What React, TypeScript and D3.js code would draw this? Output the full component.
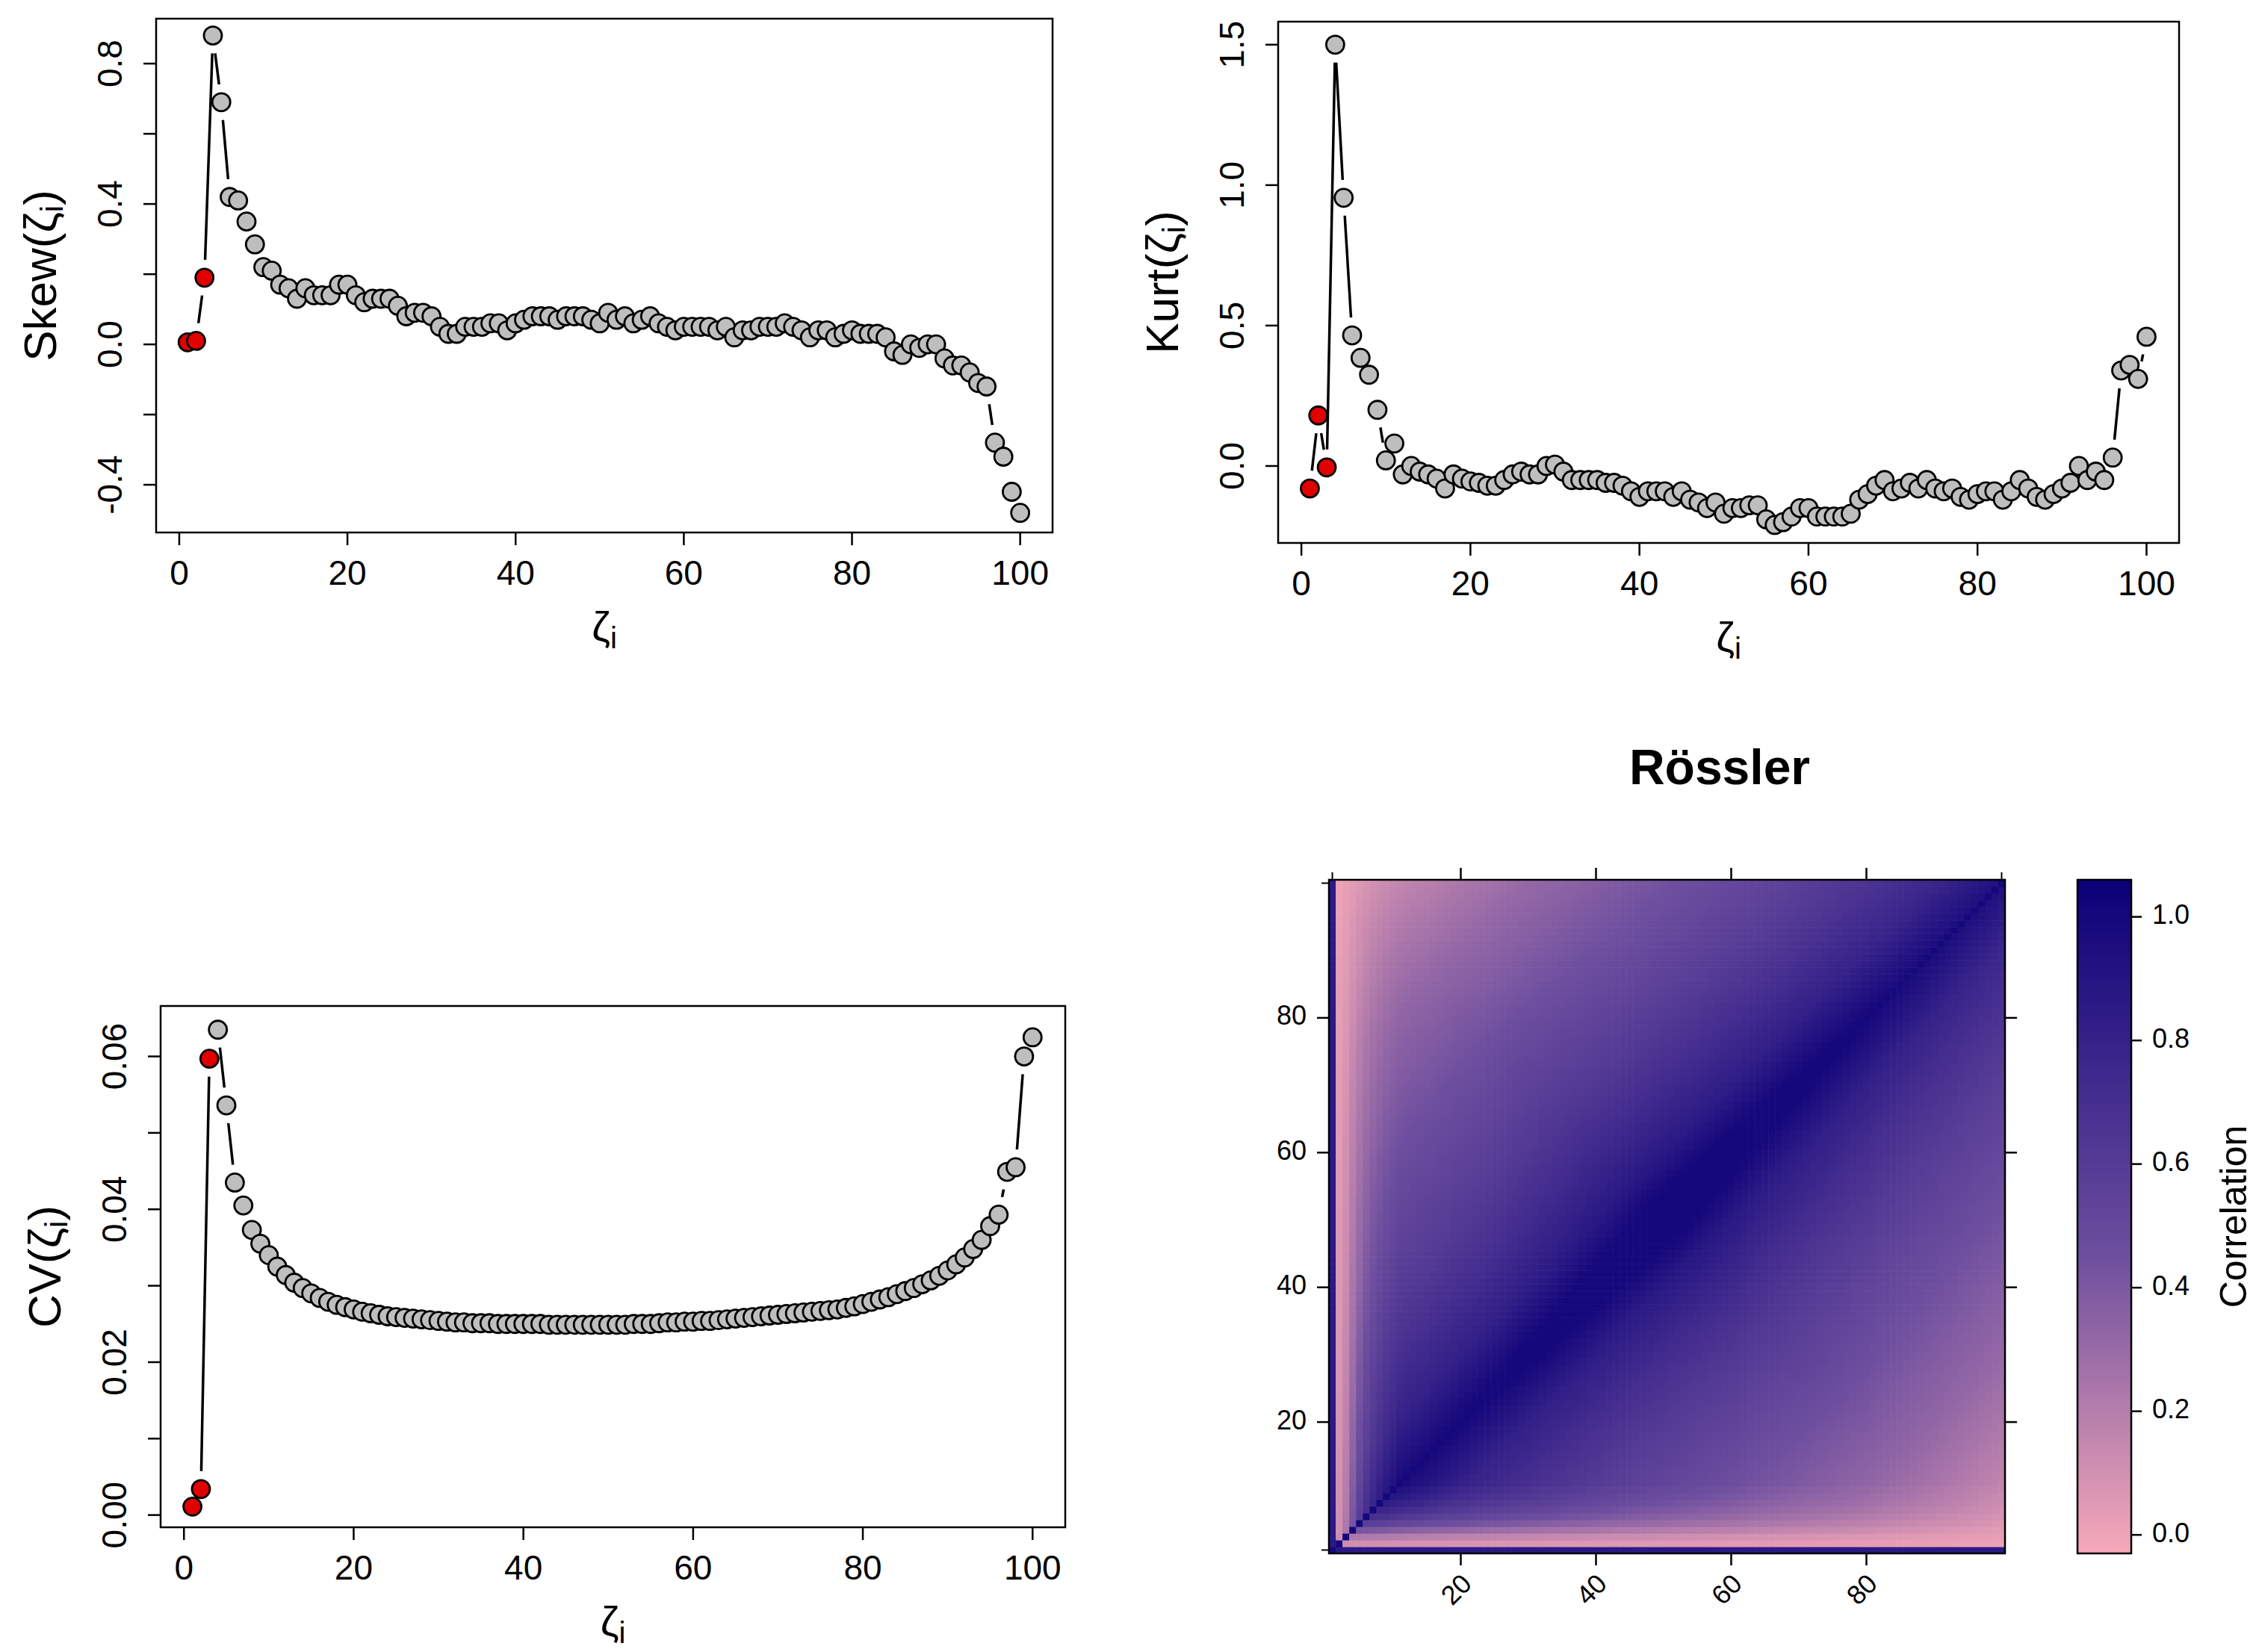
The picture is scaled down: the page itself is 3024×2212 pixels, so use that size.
import React from "react";
import * as d3 from "d3";

const idx = d3.range(1, 101);
const skew = [0.006,0.01,0.19,0.88,0.69,0.42,0.41,0.35,0.285,0.22,
0.21,0.17,0.16,0.13,0.16,0.14,0.14,0.14,0.17,0.17,
0.14,0.12,0.13,0.13,0.13,0.11,0.08,0.09,0.09,0.08,
0.05,0.03,0.03,0.05,0.05,0.05,0.06,0.06,0.04,0.06,
0.07,0.08,0.08,0.08,0.07,0.08,0.08,0.08,0.07,0.06,
0.09,0.07,0.08,0.06,0.07,0.08,0.06,0.05,0.04,0.05,
0.05,0.05,0.05,0.04,0.05,0.02,0.04,0.04,0.05,0.05,
0.05,0.06,0.05,0.04,0.02,0.04,0.04,0.02,0.03,0.04,
0.03,0.03,0.03,0.02,-0.02,-0.03,0.0,-0.01,0.0,0.0,
-0.04,-0.06,-0.06,-0.08,-0.11,-0.12,-0.28,-0.32,-0.42,-0.48];
const kurt = [-0.08,0.18,-0.005,1.5,0.955,0.465,0.385,0.325,0.2,0.02,
0.08,-0.03,0.0,-0.02,-0.03,-0.045,-0.08,-0.03,-0.045,-0.055,
-0.06,-0.07,-0.07,-0.05,-0.03,-0.02,-0.03,-0.03,0.0,0.005,
-0.02,-0.05,-0.05,-0.05,-0.05,-0.06,-0.06,-0.07,-0.09,-0.11,
-0.09,-0.09,-0.09,-0.11,-0.09,-0.12,-0.13,-0.15,-0.13,-0.17,
-0.15,-0.15,-0.14,-0.14,-0.19,-0.21,-0.2,-0.18,-0.15,-0.15,
-0.18,-0.18,-0.18,-0.18,-0.17,-0.12,-0.1,-0.07,-0.05,-0.09,
-0.08,-0.06,-0.08,-0.05,-0.08,-0.09,-0.08,-0.11,-0.12,-0.1,
-0.09,-0.09,-0.12,-0.09,-0.05,-0.08,-0.11,-0.12,-0.1,-0.08,
-0.06,0.0,-0.05,-0.02,-0.05,0.03,0.34,0.36,0.31,0.46];
const cv = [0.0011,0.0034,0.0597,0.0635,0.0536,0.0435,0.0405,0.0373,0.0355,0.034,
0.0325,0.0314,0.0304,0.0297,0.029,0.0284,0.0279,0.0275,0.0272,0.0269,
0.0266,0.0264,0.0262,0.026,0.0259,0.0258,0.0257,0.0256,0.0255,0.0254,
0.0253,0.0252,0.0252,0.0251,0.0251,0.0251,0.025,0.025,0.025,0.025,
0.025,0.025,0.0249,0.0249,0.0249,0.0249,0.0249,0.0249,0.0249,0.0249,
0.0249,0.0249,0.025,0.025,0.025,0.0251,0.0252,0.0252,0.0253,0.0253,
0.0254,0.0254,0.0255,0.0256,0.0257,0.0258,0.0259,0.026,0.0261,0.0262,
0.0263,0.0264,0.0265,0.0266,0.0267,0.0268,0.0269,0.0271,0.0273,0.0276,
0.0279,0.0282,0.0285,0.0289,0.0293,0.0297,0.0302,0.0307,0.0313,0.032,
0.0328,0.0337,0.0348,0.036,0.0378,0.0393,0.0449,0.0455,0.06,0.0625];
const redCount = 3;

// heatmap: correlation by lag, edge-row weights, and a centre boost
const lagKnots = [0,2,5,10,20,30,40,50,60,70,80,90,99];
const lagCorr = [1,0.96,0.9,0.8,0.68,0.58,0.5,0.43,0.36,0.3,0.22,0.14,0.06];
const edgeWeight = [0.12,0.25,0.45,0.62,0.74,0.82,0.88,0.93,0.96]; // index 2..10
const firstRowCorr = 0.86;
const barTicks = [0,0.2,0.4,0.6,0.8,1.0];
const hmTicks = [20,40,60,80];

const lagScale = d3.scaleLinear(lagKnots, lagCorr).clamp(true);
function corr(i: number, j: number) {
  if (i === j) return 1;
  if (i === 1 || j === 1) return firstRowCorr;
  const m = Math.min(i, j);
  const w = m - 2 < edgeWeight.length ? edgeWeight[m - 2] : 1;
  const mid = (i + j) / 2;
  const centre = 0.94 + 0.16 * (1 - Math.abs(mid - 50) / 50);
  return Math.min(1, lagScale(Math.abs(i - j)) * w * centre);
}
const colorScale = d3.scaleLinear<string>().domain([-0.03, 0.45, 1.06]).range(["#f7a9b8", "#6e4f9f", "#0b0078"]).interpolate(d3.interpolateRgb);

const FONT = "'Liberation Sans', Arial, sans-serif";

function Panel({ box, ydom, data, yticks, ylabs, yfmt, label }: any) {
  const [x0, y0, x1, y1] = box;
  const x = d3.scaleLinear([-2.75, 103.85], [x0, x1]);
  const y = d3.scaleLinear(ydom, [y1, y0]);
  const r = 12, gap = 12;
  const pts = data.map((v: number, k: number) => [x(idx[k]), y(v)]);
  const segs: any[] = [];
  for (let k = 0; k < pts.length - 1; k++) {
    const [ax, ay] = pts[k], [bx, by] = pts[k + 1];
    const dx = bx - ax, dy = by - ay, L = Math.hypot(dx, dy);
    const cut = r + gap;
    if (L > 2 * cut + 4) {
      const ux = dx / L, uy = dy / L;
      segs.push(<line key={k} x1={ax + ux * cut} y1={ay + uy * cut} x2={bx - ux * cut} y2={by - uy * cut} stroke="#000" strokeWidth={3.5} />);
    }
  }
  const xt = [0, 20, 40, 60, 80, 100];
  return (
    <g fontFamily={FONT}>
      {segs}
      {pts.map((p: number[], k: number) => (
        <circle key={k} cx={p[0]} cy={p[1]} r={r} fill={k < redCount ? "#e00000" : "#bebebe"} stroke="#000" strokeWidth={2.8} />
      ))}
      <rect x={x0} y={y0} width={x1 - x0} height={y1 - y0} fill="none" stroke="#000" strokeWidth={2.5} />
      {xt.map((t) => (
        <g key={t}>
          <line x1={x(t)} x2={x(t)} y1={y1} y2={y1 + 17} stroke="#000" strokeWidth={2.5} />
          <text x={x(t)} y={y1 + 58} fontSize={46} textAnchor="middle" dominantBaseline="middle">{t}</text>
        </g>
      ))}
      {yticks.map((t: number) => (
        <line key={t} x1={x0} x2={x0 - 17} y1={y(t)} y2={y(t)} stroke="#000" strokeWidth={2.5} />
      ))}
      {ylabs.map((t: number) => (
        <text key={t} transform={`translate(${x0 - 58},${y(t)}) rotate(-90)`} fontSize={46} textAnchor="middle" dominantBaseline="middle">{yfmt(t)}</text>
      ))}
      <text x={(x0 + x1) / 2} y={y1 + 130} fontSize={56} textAnchor="middle" dominantBaseline="middle">ζ<tspan fontSize={40} dy={14}>i</tspan></text>
      <text transform={`translate(${x0 - 150},${(y0 + y1) / 2}) rotate(-90)`} fontSize={62} textAnchor="middle" dominantBaseline="middle">
        {label}(<tspan fontWeight={300}>ζ</tspan><tspan fontSize={42} dy={14}>i</tspan><tspan dy={-14}>)</tspan>
      </text>
    </g>
  );
}

function Heatmap() {
  const [x0, y0, x1, y1] = [1779, 1178, 2684, 2080];
  const x = d3.scaleLinear([0.5, 100.5], [x0, x1]);
  const y = d3.scaleLinear([0.5, 100.5], [y1, y0]);
  const cw = (x1 - x0) / 100, ch = (y1 - y0) / 100;
  const cells: any[] = [];
  idx.forEach((i) => idx.forEach((j) => {
    cells.push(<rect key={i * 1000 + j} x={x(i - 0.5)} y={y(j + 0.5)} width={cw + 0.6} height={ch + 0.6} fill={colorScale(corr(i, j))} />);
  }));
  const [bx0, bx1] = [2781, 2853];
  const bs = d3.scaleLinear([-0.03, 1.06], [y1, y0]);
  const bar = d3.range(0, 200).map((k) => {
    const v0 = -0.03 + (k / 200) * 1.09, v1 = -0.03 + ((k + 1) / 200) * 1.09;
    return <rect key={k} x={bx0} width={bx1 - bx0} y={bs(v1)} height={bs(v0) - bs(v1) + 0.8} fill={colorScale((v0 + v1) / 2)} />;
  });
  return (
    <g fontFamily={FONT}>
      <text x={2302} y={1033} fontSize={66} fontWeight="bold" textAnchor="middle" dominantBaseline="middle">Rössler</text>
      {cells}
      <rect x={x0} y={y0} width={x1 - x0} height={y1 - y0} fill="none" stroke="#000" strokeWidth={2.5} />
      {hmTicks.map((t) => (
        <g key={t}>
          <line x1={x(t)} x2={x(t)} y1={y1} y2={y1 + 16} stroke="#000" strokeWidth={2.5} />
          <line x1={x(t)} x2={x(t)} y1={y0} y2={y0 - 16} stroke="#000" strokeWidth={2.5} />
          <line x1={x0} x2={x0 - 16} y1={y(t)} y2={y(t)} stroke="#000" strokeWidth={2.5} />
          <line x1={x1} x2={x1 + 16} y1={y(t)} y2={y(t)} stroke="#000" strokeWidth={2.5} />
          <text x={x0 - 30} y={y(t)} fontSize={36} textAnchor="end" dominantBaseline="middle">{t}</text>
          <text transform={`translate(${x(t) + 10},${y1 + 36}) rotate(-45)`} fontSize={36} textAnchor="end" dominantBaseline="middle">{t}</text>
        </g>
      ))}
      {[1, 100].map((t) => (
        <g key={"e" + t}>
          <line x1={x(t)} x2={x(t)} y1={y0} y2={y0 - 10} stroke="#000" strokeWidth={2} />
          <line x1={x0} x2={x0 - 10} y1={y(t)} y2={y(t)} stroke="#000" strokeWidth={2} />
        </g>
      ))}
      {bar}
      <rect x={bx0} y={y0} width={bx1 - bx0} height={y1 - y0} fill="none" stroke="#000" strokeWidth={2.5} />
      {barTicks.map((t) => (
        <g key={t}>
          <line x1={bx1} x2={bx1 + 14} y1={bs(t)} y2={bs(t)} stroke="#000" strokeWidth={2.5} />
          <text x={bx1 + 28} y={bs(t)} fontSize={36} dominantBaseline="middle">{t.toFixed(1)}</text>
        </g>
      ))}
      <text transform={`translate(2994,${(y0 + y1) / 2}) rotate(-90)`} fontSize={50} textAnchor="middle" dominantBaseline="middle">Correlation</text>
    </g>
  );
}

export default function App() {
  return (
    <svg width={3024} height={2212} style={{ position: "absolute", left: 0, top: 0, background: "#fff" }}>
      <rect width={3024} height={2212} fill="#fff" />
      <Panel box={[209, 25, 1409, 713]} ydom={[-0.536, 0.928]} data={skew}
        yticks={[-0.4, -0.2, 0, 0.2, 0.4, 0.6, 0.8]} ylabs={[-0.4, 0, 0.4, 0.8]} yfmt={(t: number) => t.toFixed(1)} label="Skew" />
      <Panel box={[1711, 29, 2917, 727]} ydom={[-0.274, 1.582]} data={kurt}
        yticks={[0, 0.5, 1, 1.5]} ylabs={[0, 0.5, 1, 1.5]} yfmt={(t: number) => t.toFixed(1)} label="Kurt" />
      <Panel box={[215, 1347, 1426, 2045]} ydom={[-0.0016, 0.0666]} data={cv}
        yticks={[0, 0.01, 0.02, 0.03, 0.04, 0.05, 0.06]} ylabs={[0, 0.02, 0.04, 0.06]} yfmt={(t: number) => t.toFixed(2)} label="CV" />
      <Heatmap />
    </svg>
  );
}
